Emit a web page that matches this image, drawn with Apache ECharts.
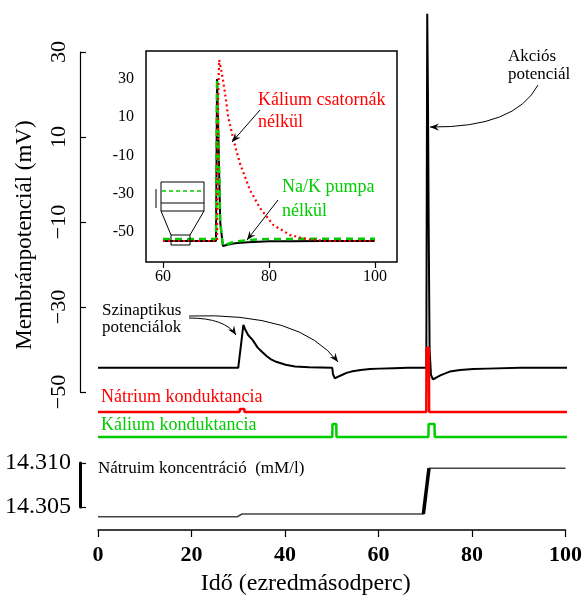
<!DOCTYPE html>
<html>
<head>
<meta charset="utf-8">
<script src="https://cdn.jsdelivr.net/npm/echarts@6/dist/echarts.min.js"></script>
<style>html,body{margin:0;padding:0;background:#fff}#c{width:585px;height:603px}</style>
</head>
<body>
<div id="c"></div>
<script>
// ---- data ----
const tMain = [0, 29.9, 31.0, 31.4, 32, 33, 34, 35, 36, 37, 38, 40, 42, 45, 49.95, 50.1, 50.5, 51, 52, 53, 54, 56, 58, 60, 63, 66, 70.0, 70.2, 70.35, 70.5, 70.7, 71.0, 71.4, 72, 73, 74.3, 75, 77.2, 80, 83, 90, 100];
const vMain = [-44.3, -44.3, -34.2, -35.3, -36.6, -37.8, -39.5, -40.6, -41.6, -42.4, -42.9, -43.6, -44.0, -44.2, -44.3, -45.8, -46.8, -46.5, -46.0, -45.5, -45.2, -44.8, -44.6, -44.5, -44.4, -44.3, -44.3, 39, 20, -10, -40, -46.0, -47.0, -46.7, -46.1, -45.5, -45.2, -44.8, -44.6, -44.5, -44.3, -44.3];

const tNa = [0, 30.2, 30.25, 31.2, 31.25, 70.0, 70.05, 70.55, 70.6, 100];
const gNa = [0, 0, 0.045, 0.045, 0, 0, 1, 1, 0, 0];

const tK = [0, 49.95, 50.0, 50.8, 50.85, 70.45, 70.5, 71.75, 71.8, 100];
const gK = [0, 0, 1, 1, 0, 0, 1, 1, 0, 0];

const tConc = [0, 29.8, 30.8, 69.6, 70.8, 100];
const conc = [14.3039, 14.3039, 14.3042, 14.3042, 14.3094, 14.3094];

const tInset = [60, 70.0, 70.2, 70.45, 70.8, 71.3, 72, 73, 74, 76, 78, 80, 84, 90, 100];
const vControl = [-54.7, -54.7, 30, 0, -45, -57.3, -56.8, -56.2, -55.8, -55.4, -55.1, -54.9, -54.8, -54.7, -54.7];
const vNoPump = [-53.6, -53.6, 30, 0, -45, -57.3, -56.4, -55.5, -54.9, -54.3, -53.9, -53.7, -53.6, -53.5, -53.5];

const tNoK = [60, 70.2, 70.4, 70.6, 71.1, 71.7, 72.3, 73.3, 74.5, 76.4, 78.3, 80.8, 84, 87.1, 90.9, 100];
const vNoK = [-54.7, -54.7, 20, 39.9, 33.1, 22.7, 10.3, -1.9, -14, -28, -37.5, -46.3, -51.6, -53.7, -54.7, -54.7];

// tick layout (first tick, last tick, step)
const mainYRange = [-50, 30, 20];
const concRange = [14.305, 14.310, 0.005];
const xRange = [0, 100, 20];
const insetXRange = [60, 100, 20];
const insetYRange = [-50, 30, 20];

// ---- helpers ----
const zip = (a, b) => a.map((v, i) => [v, b[i]]);
const SERIF = 'Liberation Serif, Times New Roman, serif';

function head(tx, ty, fx, fy) {
  const dx = tx - fx, dy = ty - fy, L = Math.hypot(dx, dy);
  const ux = dx / L, uy = dy / L, px = -uy, py = ux;
  const len = 9, w = 3.6;
  return {
    type: 'polygon', z: 200,
    shape: { points: [[tx, ty], [tx - len * ux + w * px, ty - len * uy + w * py], [tx - 0.65 * len * ux, ty - 0.65 * len * uy], [tx - len * ux - w * px, ty - len * uy - w * py]] },
    style: { fill: '#000' }
  };
}
function straightArrow(x1, y1, x2, y2) {
  return [{ type: 'line', z: 200, shape: { x1, y1, x2, y2 }, style: { stroke: '#000', lineWidth: 1 } }, head(x2, y2, x1, y1)];
}
function curveArrow(x1, y1, cx, cy, x2, y2) {
  return [{ type: 'bezierCurve', z: 200, shape: { x1, y1, x2, y2, cpx1: cx, cpy1: cy }, style: { stroke: '#000', lineWidth: 1, fill: null } }, head(x2, y2, cx, cy)];
}
function txt(text, x, y, color, size) {
  return { type: 'text', z: 200, x, y, style: { text, fill: color, font: size + 'px ' + SERIF, align: 'left', verticalAlign: 'middle' } };
}
function rect(x, y, w, h) {
  return { type: 'rect', z: 150, shape: { x, y, width: w, height: h }, style: { stroke: '#000', fill: null, lineWidth: 1 } };
}
function seg(x1, y1, x2, y2, color, dash) {
  return { type: 'line', z: 150, shape: { x1, y1, x2, y2 }, style: { stroke: color || '#000', lineWidth: color ? 1.5 : 1, lineDash: dash || null } };
}

const hiddenX = (gi, mn, mx) => ({ type: 'value', gridIndex: gi, min: mn, max: mx, show: false });
const hiddenY = (gi, mn, mx) => ({ type: 'value', gridIndex: gi, min: mn, max: mx, show: false });

const chart = echarts.init(document.getElementById('c'), null, { renderer: 'canvas' });

const graphics = [].concat(
  txt('Szinaptikus', 102, 311, '#000', 17),
  txt('potenciálok', 102, 328, '#000', 17),
  curveArrow(189, 318, 225, 318, 236, 335),
  curveArrow(189, 316, 300, 312, 338, 362),
  txt('Akciós', 508, 57, '#000', 17),
  txt('potenciál', 508, 75, '#000', 17),
  curveArrow(538, 85, 515, 128, 430, 127),
  txt('Nátrium konduktancia', 101, 397, '#ff0000', 18),
  txt('Kálium konduktancia', 101, 425, '#00cc00', 18),
  txt('Nátruim koncentráció  (mM/l)', 98, 469, '#000', 17),
  txt('Kálium csatornák', 258, 100, '#ff0000', 18),
  txt('nélkül', 258, 122, '#ff0000', 18),
  straightArrow(260, 110, 232, 142),
  txt('Na/K pumpa', 282, 187, '#00cc00', 18),
  txt('nélkül', 282, 211, '#00cc00', 18),
  straightArrow(278, 200, 247, 240),
  rect(161, 182, 43, 29),
  seg(162, 191, 203, 191, '#00cc00', [4, 3]),
  seg(161, 203, 204, 203),
  seg(161, 211, 171, 235),
  seg(204, 211, 190, 235),
  rect(171, 235, 19, 10),
  seg(156, 189, 156, 208)
);

const option = {
  animation: false,
  backgroundColor: '#fff',
  textStyle: { fontFamily: SERIF },
  grid: [
    { left: 98, top: 52, width: 469, height: 340 },
    { left: 98, top: 348, width: 469, height: 64 },
    { left: 98, top: 424, width: 469, height: 13 },
    { left: 98, top: 463, width: 469, height: 44 },
    { left: 146, top: 51, width: 251, height: 211, show: true, borderColor: '#000', borderWidth: 1.5, backgroundColor: '#fff', z: 5 },
    { left: 163, top: 79, width: 212, height: 153, z: 6 }
  ],
  xAxis: [
    hiddenX(0, 0, 100), hiddenX(1, 0, 100), hiddenX(2, 0, 100),
    {
      type: 'value', gridIndex: 3, min: xRange[0], max: xRange[1], interval: xRange[2], offset: 23,
      axisLine: { show: true, onZero: false, lineStyle: { color: '#000', width: 1.5 } },
      axisTick: { show: true, length: 7, lineStyle: { color: '#000', width: 1.2 } },
      axisLabel: { color: '#000', fontSize: 22, fontWeight: 'bold', fontFamily: SERIF, margin: 14 },
      splitLine: { show: false },
      name: 'Idő (ezredmásodperc)', nameLocation: 'middle', nameGap: 42,
      nameTextStyle: { color: '#000', fontSize: 24, fontFamily: SERIF, padding: [0, 52, 0, 0] }
    },
    hiddenX(4, 0, 1),
    {
      type: 'value', gridIndex: 5, min: insetXRange[0], max: insetXRange[1], interval: insetXRange[2], offset: 30,
      axisLine: { show: false, onZero: false },
      axisTick: { show: true, length: 6, lineStyle: { color: '#000', width: 1.2 } },
      axisLabel: { color: '#000', fontSize: 16, fontFamily: SERIF, margin: 7 },
      splitLine: { show: false }
    }
  ],
  yAxis: [
    {
      type: 'value', gridIndex: 0, min: mainYRange[0], max: mainYRange[1], interval: mainYRange[2], offset: 18,
      axisLine: { show: true, onZero: false, lineStyle: { color: '#000', width: 1.2 } },
      axisTick: { show: true, inside: true, length: 6, lineStyle: { color: '#000', width: 1.2 } },
      axisLabel: { color: '#000', fontSize: 22, fontFamily: SERIF, rotate: 90, margin: 10,
        formatter: v => String(v).replace('-', '\u2212') },
      splitLine: { show: false },
      name: 'Membránpotenciál (mV)', nameLocation: 'middle', nameRotate: 90, nameGap: 44,
      nameTextStyle: { color: '#000', fontSize: 23, fontFamily: SERIF, padding: [0, 26, 0, 0] }
    },
    hiddenY(1, 0, 1), hiddenY(2, 0, 1),
    {
      type: 'value', gridIndex: 3, min: concRange[0], max: concRange[1], interval: concRange[2], offset: 18,
      axisLine: { show: true, onZero: false, lineStyle: { color: '#000', width: 3 } },
      axisTick: { show: true, inside: true, length: 6, lineStyle: { color: '#000', width: 1.2 } },
      axisLabel: { color: '#000', fontSize: 24, fontFamily: SERIF, margin: 9, formatter: v => v.toFixed(3) },
      splitLine: { show: false }
    },
    hiddenY(4, 0, 1),
    {
      type: 'value', gridIndex: 5, min: insetYRange[0], max: insetYRange[1], interval: insetYRange[2], offset: 17,
      axisLine: { show: false, onZero: false },
      axisTick: { show: true, inside: true, length: 6, lineStyle: { color: '#000', width: 1.2 } },
      axisLabel: { color: '#000', fontSize: 16, fontFamily: SERIF, margin: 12 },
      splitLine: { show: false }
    }
  ],
  series: [
    { type: 'line', xAxisIndex: 0, yAxisIndex: 0, data: zip(tMain, vMain), showSymbol: false, clip: false,
      lineStyle: { color: '#000', width: 2 } },
    { type: 'line', xAxisIndex: 1, yAxisIndex: 1, data: zip(tNa, gNa), showSymbol: false, clip: false,
      lineStyle: { color: '#ff0000', width: 2.5 } },
    { type: 'line', xAxisIndex: 2, yAxisIndex: 2, data: zip(tK, gK), showSymbol: false, clip: false,
      lineStyle: { color: '#00cc00', width: 2.5 } },
    { type: 'line', xAxisIndex: 3, yAxisIndex: 3, data: zip(tConc, conc), showSymbol: false, clip: false,
      lineStyle: { color: '#444', width: 1.6 } },
    { type: 'line', xAxisIndex: 3, yAxisIndex: 3, data: zip(tConc, conc).slice(3, 5), showSymbol: false, clip: false,
      lineStyle: { color: '#000', width: 3.5 } },
    { type: 'line', xAxisIndex: 5, yAxisIndex: 5, data: zip(tInset, vControl), showSymbol: false, clip: false, z: 7,
      lineStyle: { color: '#000', width: 2 } },
    { type: 'line', xAxisIndex: 5, yAxisIndex: 5, data: zip(tInset, vNoPump), showSymbol: false, clip: false, z: 8,
      lineStyle: { color: '#00cc00', width: 2.5, type: [7, 5] } },
    { type: 'line', xAxisIndex: 5, yAxisIndex: 5, data: zip(tNoK, vNoK), showSymbol: false, clip: false, z: 9,
      lineStyle: { color: '#ff0000', width: 2.2, type: [2, 3] } }
  ],
  graphic: graphics
};
chart.setOption(option);
</script>
</body>
</html>
